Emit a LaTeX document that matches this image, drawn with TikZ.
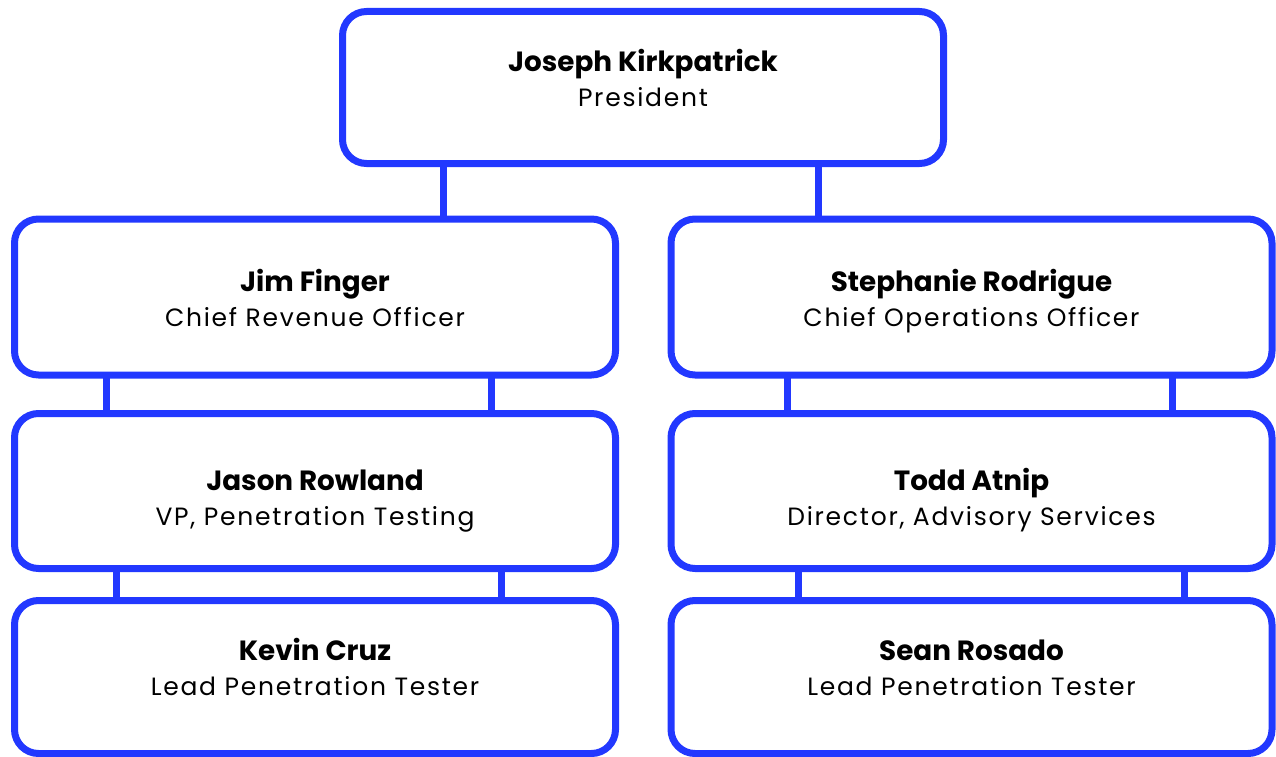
\documentclass[tikz,border=0pt]{standalone}
\usepackage{fontspec}
\usepackage{tikz}
\setmainfont{Poppins}
\newfontfamily\namefont{Poppins}
\newfontfamily\rolefont[LetterSpace=7]{Poppins}
\definecolor{orgblue}{HTML}{2238FF}
\tikzset{>=latex}

\begin{document}
\begin{tikzpicture}[x=1pt, y=-1pt,
    box/.style={draw=orgblue, line width=7pt, fill=white, rounded corners=24pt,
        outer sep=0pt, minimum width=601pt, minimum height=153pt, align=center,
        text height=#1, text depth=0pt,
        font=\fontsize{25}{35}\selectfont\rolefont},
    box/.default=40pt,
    link/.style={draw=orgblue, line width=7pt}]

\useasboundingbox (0,0) rectangle (1276,757);

% President
\node[box=38.4pt, minimum height=152pt] (pres) at (643,87.5)
    {{\namefont\bfseries\fontsize{27.8}{35}\selectfont Joseph Kirkpatrick}\\President};

% Chiefs
\node[box=58pt, minimum height=156pt] (jim) at (315,297)
    {{\namefont\bfseries\fontsize{27.8}{35}\selectfont Jim Finger}\\Chief Revenue Officer};
\node[box=58pt, minimum height=156pt] (steph) at (971.5,297)
    {{\namefont\bfseries\fontsize{27.8}{35}\selectfont Stephanie Rodrigue}\\Chief Operations Officer};

% Second line
\node[box=68pt, minimum height=155pt] (jason) at (315,491)
    {{\namefont\bfseries\fontsize{27.8}{35}\selectfont Jason Rowland}\\VP, Penetration Testing};
\node[box=68pt, minimum height=155pt] (todd) at (971.5,491)
    {{\namefont\bfseries\fontsize{27.8}{35}\selectfont Todd Atnip}\\Director, Advisory Services};

% Testers
\node[box=36pt, minimum height=153pt] (kevin) at (315,677)
    {{\namefont\bfseries\fontsize{27.8}{35}\selectfont Kevin Cruz}\\Lead Penetration Tester};
\node[box=36pt, minimum height=153pt] (sean) at (971.5,677)
    {{\namefont\bfseries\fontsize{27.8}{35}\selectfont Sean Rosado}\\Lead Penetration Tester};

% Links
\draw[link] ([xshift=-200]pres.south) -- ([xshift=-200]pres.south |- jim.north);
\draw[link] ([xshift=175]pres.south) -- ([xshift=175]pres.south |- steph.north);

\draw[link] ([xshift=-209]jim.south) -- ([xshift=-209]jim.south |- jason.north);
\draw[link] ([xshift=176]jim.south) -- ([xshift=176]jim.south |- jason.north);
\draw[link] ([xshift=-184.5]steph.south) -- ([xshift=-184.5]steph.south |- todd.north);
\draw[link] ([xshift=200.5]steph.south) -- ([xshift=200.5]steph.south |- todd.north);

\draw[link] ([xshift=-199]jason.south) -- ([xshift=-199]jason.south |- kevin.north);
\draw[link] ([xshift=186]jason.south) -- ([xshift=186]jason.south |- kevin.north);
\draw[link] ([xshift=-173.5]todd.south) -- ([xshift=-173.5]todd.south |- sean.north);
\draw[link] ([xshift=212.5]todd.south) -- ([xshift=212.5]todd.south |- sean.north);

\end{tikzpicture}
\end{document}
